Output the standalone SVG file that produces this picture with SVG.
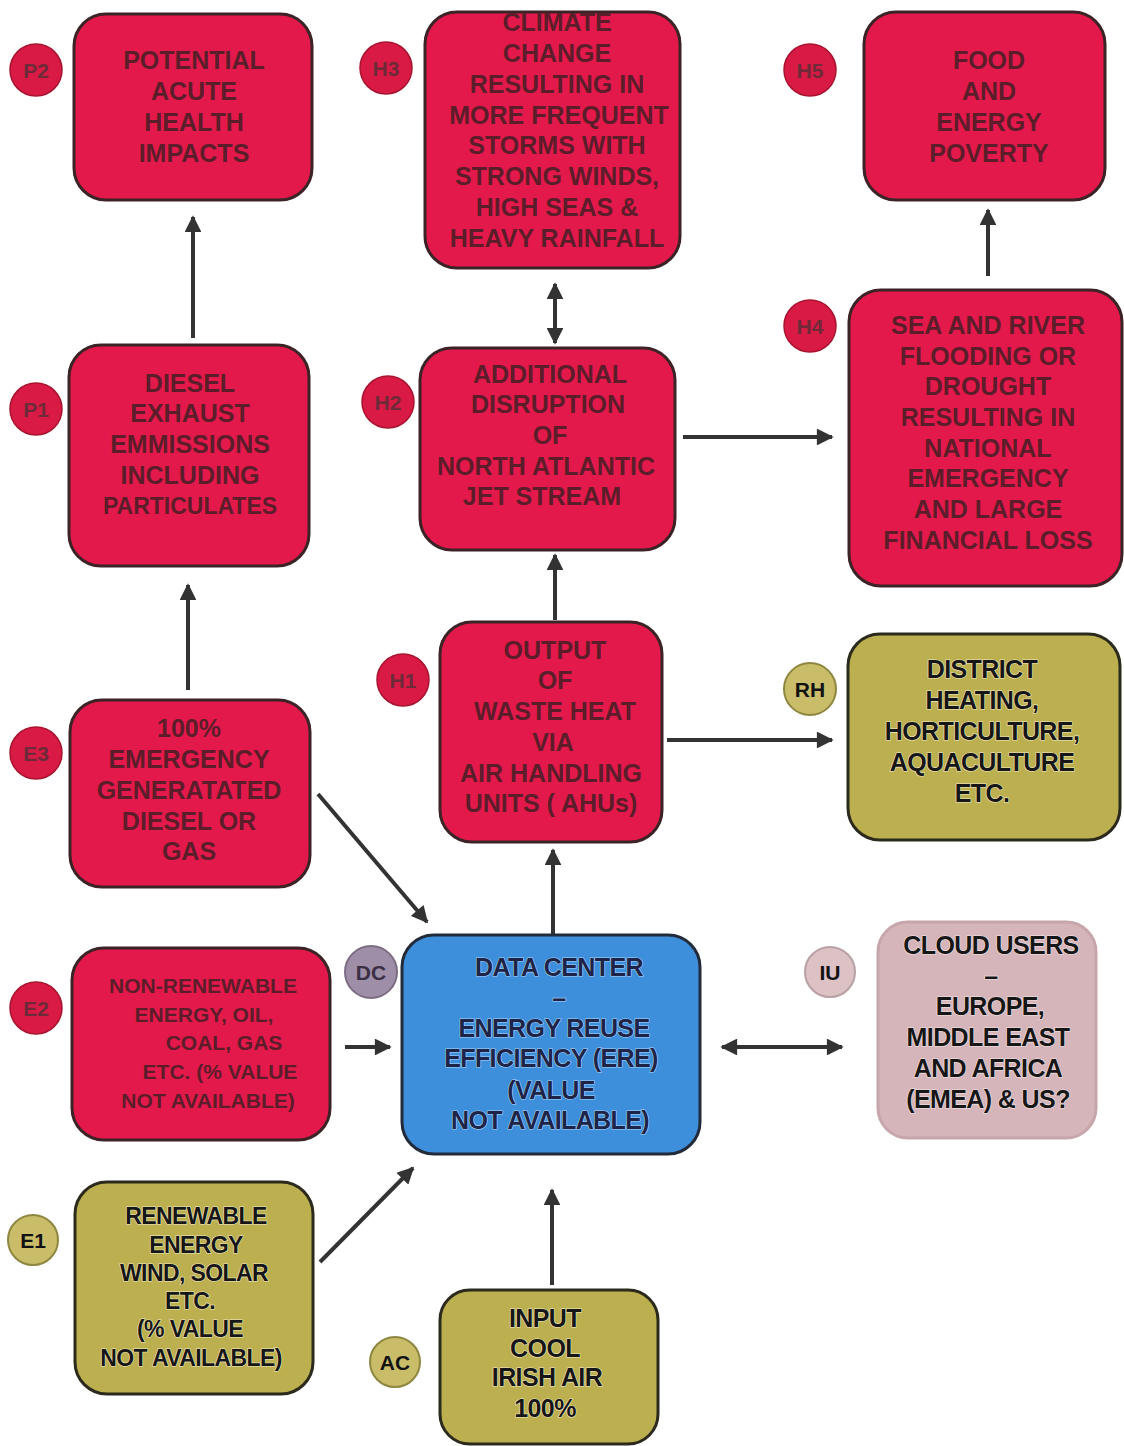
<svg xmlns="http://www.w3.org/2000/svg" width="1124" height="1446" viewBox="0 0 1124 1446">
<defs>
<marker id="ah" viewBox="0 0 10 10" refX="9" refY="5" markerWidth="4.4" markerHeight="4.2" orient="auto-start-reverse" markerUnits="strokeWidth">
<path d="M0,0 L10,5 L0,10 z" fill="#333"/>
</marker>
<style>
.red{fill:#e4194b;stroke:#3b2326;stroke-width:3}
.olive{fill:#bcaf4f;stroke:#2b2a1c;stroke-width:3}
.blue{fill:#3d8fdc;stroke:#222b3a;stroke-width:3}
.pink{fill:#d5b5b9;stroke:#c6a6aa;stroke-width:3}
text{font-family:"Liberation Sans",Arial,sans-serif;font-weight:bold;text-anchor:middle}
.tr{fill:#5c1d2a;font-size:25px}
.tk{fill:#161616;font-size:25px;stroke:#efe9c2;stroke-width:1.2;paint-order:stroke;letter-spacing:-0.6px}
.tb{fill:#1e2448;font-size:25px;stroke:#a9d2f4;stroke-width:1.2;paint-order:stroke;letter-spacing:-0.6px}
.tp{fill:#161616;font-size:25px;stroke:#f3e6e8;stroke-width:1.2;paint-order:stroke;letter-spacing:-0.6px}
.br{fill:#d81a45;stroke:#a8142f;stroke-width:1.5}
.bo{fill:#c9bd6a;stroke:#8f8640;stroke-width:2}
.bd{fill:#9e8ea7;stroke:#7c6d85;stroke-width:2}
.bp{fill:#dcc1c5;stroke:#b9a0a4;stroke-width:2}
.btr{fill:#6e2a38;font-size:21px}
.btk{fill:#111;font-size:21px}
.conn{stroke:#333;stroke-width:4;fill:none;marker-end:url(#ah)}
.both{marker-start:url(#ah)}
</style>
</defs>
<rect width="1124" height="1446" fill="#ffffff"/>

<g id="connectors">
<line class="conn" x1="193" y1="338" x2="193" y2="217"/>
<line class="conn" x1="188" y1="690" x2="188" y2="585"/>
<line class="conn both" x1="555" y1="284" x2="555" y2="343"/>
<line class="conn" x1="555" y1="620" x2="555" y2="555"/>
<line class="conn" x1="683" y1="437" x2="832" y2="437"/>
<line class="conn" x1="988" y1="276" x2="988" y2="210"/>
<line class="conn" x1="667" y1="740" x2="832" y2="740"/>
<line class="conn" x1="553" y1="940" x2="553" y2="850"/>
<line class="conn" x1="318" y1="794" x2="427" y2="922"/>
<line class="conn" x1="345" y1="1047" x2="390" y2="1047"/>
<line class="conn both" x1="722" y1="1047" x2="842" y2="1047"/>
<line class="conn" x1="320" y1="1262" x2="413" y2="1168"/>
<line class="conn" x1="552" y1="1285" x2="552" y2="1190"/>
</g>

<g id="P2">
<rect class="red" x="74" y="14" width="238" height="186" rx="32"/>
<circle class="br" cx="36" cy="70" r="26"/><text class="btr" x="36" y="78">P2</text>
<text class="tr" x="194" y="69">POTENTIAL</text>
<text class="tr" x="194" y="100">ACUTE</text>
<text class="tr" x="194" y="131">HEALTH</text>
<text class="tr" x="194" y="162">IMPACTS</text>
</g>

<g id="H3">
<rect class="red" x="425" y="12" width="255" height="256" rx="32"/>
<circle class="br" cx="386" cy="68" r="26"/><text class="btr" x="386" y="76">H3</text>
<text class="tr" x="557" y="31">CLIMATE</text>
<text class="tr" x="557" y="62">CHANGE</text>
<text class="tr" x="557" y="93">RESULTING IN</text>
<text class="tr" x="559" y="124">MORE FREQUENT</text>
<text class="tr" x="557" y="154">STORMS WITH</text>
<text class="tr" x="557" y="185">STRONG WINDS,</text>
<text class="tr" x="557" y="216">HIGH SEAS &amp;</text>
<text class="tr" x="557" y="247">HEAVY RAINFALL</text>
</g>

<g id="H5">
<rect class="red" x="864" y="12" width="241" height="188" rx="32"/>
<circle class="br" cx="810" cy="70" r="26"/><text class="btr" x="810" y="78">H5</text>
<text class="tr" x="989" y="69">FOOD</text>
<text class="tr" x="989" y="100">AND</text>
<text class="tr" x="989" y="131">ENERGY</text>
<text class="tr" x="989" y="162">POVERTY</text>
</g>

<g id="P1">
<rect class="red" x="69" y="345" width="240" height="221" rx="32"/>
<circle class="br" cx="36" cy="409" r="26"/><text class="btr" x="36" y="417">P1</text>
<text class="tr" x="190" y="392">DIESEL</text>
<text class="tr" x="190" y="422">EXHAUST</text>
<text class="tr" x="190" y="453">EMMISSIONS</text>
<text class="tr" x="190" y="484">INCLUDING</text>
<text class="tr" x="190" y="514" style="font-size:23px">PARTICULATES</text>
</g>

<g id="H2">
<rect class="red" x="420" y="348" width="255" height="202" rx="32"/>
<circle class="br" cx="388" cy="402" r="26"/><text class="btr" x="388" y="410">H2</text>
<text class="tr" x="550" y="383">ADDITIONAL</text>
<text class="tr" x="548" y="413">DISRUPTION</text>
<text class="tr" x="550" y="444">OF</text>
<text class="tr" x="546" y="475">NORTH ATLANTIC</text>
<text class="tr" x="542" y="505">JET STREAM</text>
</g>

<g id="H4">
<rect class="red" x="849" y="290" width="273" height="296" rx="32"/>
<circle class="br" cx="810" cy="326" r="26"/><text class="btr" x="810" y="334">H4</text>
<text class="tr" x="988" y="334">SEA AND RIVER</text>
<text class="tr" x="988" y="365">FLOODING OR</text>
<text class="tr" x="988" y="395">DROUGHT</text>
<text class="tr" x="988" y="426">RESULTING IN</text>
<text class="tr" x="988" y="457">NATIONAL</text>
<text class="tr" x="988" y="487">EMERGENCY</text>
<text class="tr" x="988" y="518">AND LARGE</text>
<text class="tr" x="988" y="549">FINANCIAL LOSS</text>
</g>

<g id="E3">
<rect class="red" x="70" y="700" width="240" height="187" rx="32"/>
<circle class="br" cx="36" cy="753" r="26"/><text class="btr" x="36" y="761">E3</text>
<text class="tr" x="189" y="737">100%</text>
<text class="tr" x="189" y="768">EMERGENCY</text>
<text class="tr" x="189" y="799">GENERATATED</text>
<text class="tr" x="189" y="830">DIESEL OR</text>
<text class="tr" x="189" y="860">GAS</text>
</g>

<g id="H1">
<rect class="red" x="440" y="622" width="222" height="220" rx="32"/>
<circle class="br" cx="403" cy="680" r="26"/><text class="btr" x="403" y="688">H1</text>
<text class="tr" x="555" y="659">OUTPUT</text>
<text class="tr" x="555" y="689">OF</text>
<text class="tr" x="555" y="720">WASTE HEAT</text>
<text class="tr" x="553" y="751">VIA</text>
<text class="tr" x="551" y="782">AIR HANDLING</text>
<text class="tr" x="551" y="812">UNITS ( AHUs)</text>
</g>

<g id="RH">
<rect class="olive" x="848" y="634" width="272" height="206" rx="32"/>
<circle class="bo" cx="810" cy="689" r="26"/><text class="btk" x="810" y="697">RH</text>
<text class="tk" x="982" y="678">DISTRICT</text>
<text class="tk" x="982" y="709">HEATING,</text>
<text class="tk" x="982" y="740">HORTICULTURE,</text>
<text class="tk" x="982" y="771">AQUACULTURE</text>
<text class="tk" x="982" y="802">ETC.</text>
</g>

<g id="E2">
<rect class="red" x="72" y="948" width="258" height="192" rx="32"/>
<circle class="br" cx="36" cy="1008" r="26"/><text class="btr" x="36" y="1016">E2</text>
<text class="tr" x="203" y="993" style="font-size:21px">NON-RENEWABLE</text>
<text class="tr" x="204" y="1022" style="font-size:21px">ENERGY, OIL,</text>
<text class="tr" x="224" y="1050" style="font-size:21px">COAL, GAS</text>
<text class="tr" x="220" y="1079" style="font-size:21px">ETC. (% VALUE</text>
<text class="tr" x="208" y="1108" style="font-size:21px">NOT AVAILABLE)</text>
</g>

<g id="DC">
<rect class="blue" x="402" y="935" width="298" height="219" rx="32"/>
<circle class="bd" cx="371" cy="972" r="26"/><text class="btk" x="371" y="980" style="fill:#3a2f44">DC</text>
<text class="tb" x="559" y="976">DATA CENTER</text>
<text class="tb" x="559" y="1007">–</text>
<text class="tb" x="554" y="1037">ENERGY REUSE</text>
<text class="tb" x="551" y="1067">EFFICIENCY (ERE)</text>
<text class="tb" x="551" y="1099">(VALUE</text>
<text class="tb" x="550" y="1129">NOT AVAILABLE)</text>
</g>

<g id="IU">
<rect class="pink" x="878" y="922" width="218" height="216" rx="30"/>
<circle class="bp" cx="830" cy="972" r="25"/><text class="btk" x="830" y="980">IU</text>
<text class="tp" x="991" y="954">CLOUD USERS</text>
<text class="tp" x="991" y="985">–</text>
<text class="tp" x="990" y="1015">EUROPE,</text>
<text class="tp" x="988" y="1046">MIDDLE EAST</text>
<text class="tp" x="988" y="1077">AND AFRICA</text>
<text class="tp" x="988" y="1108">(EMEA) &amp; US?</text>
</g>

<g id="E1">
<rect class="olive" x="75" y="1182" width="238" height="212" rx="32"/>
<circle class="bo" cx="33" cy="1240" r="25"/><text class="btk" x="33" y="1248">E1</text>
<text class="tk" x="196" y="1224" style="font-size:23px">RENEWABLE</text>
<text class="tk" x="196" y="1253" style="font-size:23px">ENERGY</text>
<text class="tk" x="194" y="1281" style="font-size:23px">WIND, SOLAR</text>
<text class="tk" x="190" y="1309" style="font-size:23px">ETC.</text>
<text class="tk" x="190" y="1337" style="font-size:23px">(% VALUE</text>
<text class="tk" x="191" y="1366" style="font-size:23px">NOT AVAILABLE)</text>
</g>

<g id="AC">
<rect class="olive" x="440" y="1290" width="218" height="154" rx="30"/>
<circle class="bo" cx="395" cy="1362" r="25"/><text class="btk" x="395" y="1370">AC</text>
<text class="tk" x="545" y="1327">INPUT</text>
<text class="tk" x="545" y="1357">COOL</text>
<text class="tk" x="547" y="1386">IRISH AIR</text>
<text class="tk" x="545" y="1417">100%</text>
</g>
</svg>
